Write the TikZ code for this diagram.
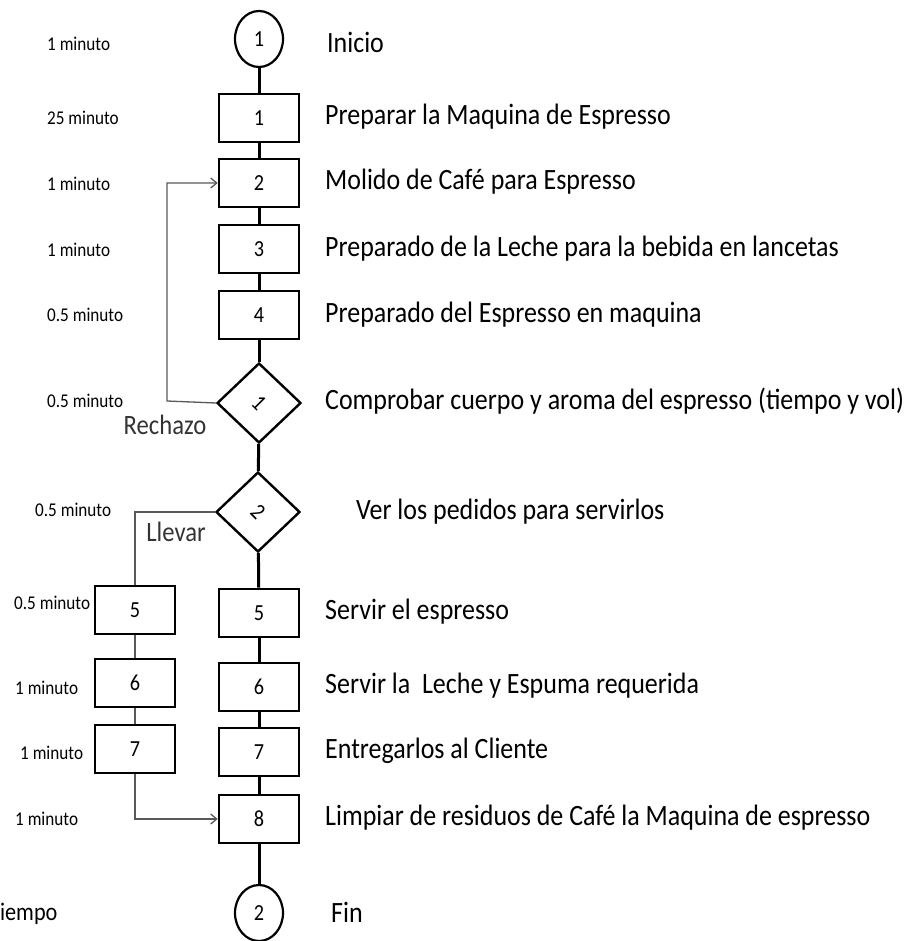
\documentclass[tikz,border=0pt]{standalone}
\usepackage{fontspec}
\setmainfont{Carlito}[FakeStretch=0.88]
\usetikzlibrary{shapes.geometric,arrows.meta}
\begin{document}
\begin{tikzpicture}[x=1pt,y=-1pt,
  stepbox/.style={draw,line width=2.6pt,minimum width=80pt,minimum height=48pt,inner sep=0pt,font=\fontsize{23}{27}\selectfont},
  endpoint/.style={draw,ellipse,line width=2.2pt,minimum width=48pt,minimum height=56pt,inner sep=0pt,font=\fontsize{23}{27}\selectfont},
  check/.style={draw,diamond,line width=2.4pt,minimum width=84pt,minimum height=80pt,inner sep=0pt,font=\fontsize{23}{27}\selectfont},
  flow/.style={line width=3pt},
  thin/.style={line width=1.3pt,draw=black!65},
  thinarrow/.style={thin,-{Straight Barb[length=6pt,width=10pt]}},
  desc/.style={anchor=west,inner sep=0pt,font=\fontsize{29.5}{34}\selectfont},
  timelbl/.style={anchor=west,inner sep=0pt,font=\fontsize{19.5}{23}\selectfont},
  branchlbl/.style={inner sep=0pt,font=\fontsize{28}{33}\selectfont,text=black!80}]
\useasboundingbox (0,0) rectangle (922,941);

% main column
\node[endpoint] (c1) at (259,39) {1};
\node[stepbox] (b1) at (259,118) {1};
\node[stepbox] (b2) at (259,183) {2};
\node[stepbox] (b3) at (259,249) {3};
\node[stepbox] (b4) at (259,315) {4};
\node[check] (d1) at (259,403) {\rotatebox{-45}{1}};
\node[check] (d2) at (258,512) {\rotatebox{-45}{2}};
\node[stepbox] (r5) at (259,613) {5};
\node[stepbox] (r6) at (259,687) {6};
\node[stepbox] (r7) at (259,752) {7};
\node[stepbox] (b8) at (259,819) {8};
\node[endpoint] (c2) at (259,913) {2};

% take-away column
\node[stepbox] (l5) at (135,610) {5};
\node[stepbox] (l6) at (135,683) {6};
\node[stepbox] (l7) at (135,749) {7};

% main flow
\draw[flow] (c1) -- (b1);
\draw[flow] (b1) -- (b2);
\draw[flow] (b2) -- (b3);
\draw[flow] (b3) -- (b4);
\draw[flow] (b4) -- (d1);
\draw[flow] (d1) -- (d2);
\draw[flow] (d2) -- (r5);
\draw[flow] (r5) -- (r6);
\draw[flow] (r6) -- (r7);
\draw[flow] (r7) -- (b8);
\draw[flow] (b8) -- (c2);

% rejection loop
\coordinate (loopx) at (167,401);
\draw[thinarrow] (d1.west) -- (loopx) |- (b2.west);
\node[branchlbl] (rech) at (165,425) {Rechazo};

% take-away branch
\draw[thin] (d2.west) -| (l5.north);
\node[branchlbl] (llev) at (176,532) {Llevar};
\draw[thin] (l5) -- (l6);
\draw[thin] (l6) -- (l7);
\draw[thinarrow] (l7.south) |- (b8.west);

% descriptions
\node[desc] (t0) at (327,42) {Inicio};
\node[desc] (t1) at (325,117) {Preparar la Maquina de Espresso};
\node[desc] (t2) at (325,182) {Molido de Café para Espresso};
\node[desc] (t3) at (325,249) {Preparado de la Leche para la bebida en lancetas};
\node[desc] (t4) at (325,315) {Preparado del Espresso en maquina};
\node[desc] (t5) at (325,401) {Comprobar cuerpo y aroma del espresso (tiempo y vol)};
\node[desc] (t6) at (356,512) {Ver los pedidos para servirlos};
\node[desc] (t7) at (325,612) {Servir el espresso};
\node[desc] (t8) at (325,686) {Servir la\ \ Leche y Espuma requerida};
\node[desc] (t9) at (325,751) {Entregarlos al Cliente};
\node[desc] (t10) at (325,818) {Limpiar de residuos de Café la Maquina de espresso};
\node[desc] (t11) at (331,912) {Fin};

% times
\node[timelbl] (m0) at (47,44) {1 minuto};
\node[timelbl] (m1) at (47,118) {25 minuto};
\node[timelbl] (m2) at (47,184) {1 minuto};
\node[timelbl] (m3) at (47,250) {1 minuto};
\node[timelbl] (m4) at (47,315) {0.5 minuto};
\node[timelbl] (m5) at (47,401) {0.5 minuto};
\node[timelbl] (m6) at (35,510) {0.5 minuto};
\node[timelbl] (m7) at (14,603) {0.5 minuto};
\node[timelbl] (m8) at (15,688) {1 minuto};
\node[timelbl] (m9) at (20,753) {1 minuto};
\node[timelbl] (m10) at (15,819) {1 minuto};
\node[anchor=west,inner sep=0pt,font=\fontsize{25.3}{30}\selectfont] (tiempo) at (-11,914) {Tiempo};
\end{tikzpicture}
\end{document}
